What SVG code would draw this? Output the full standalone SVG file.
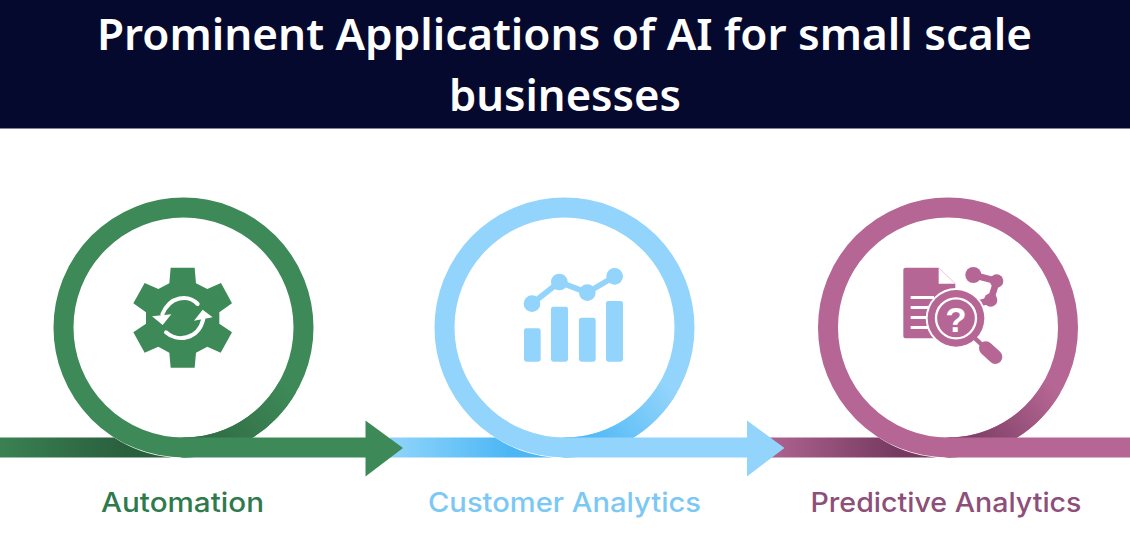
<svg xmlns="http://www.w3.org/2000/svg" width="1130" height="556" viewBox="0 0 1130 556">
<style>
.title{font-family:"Noto Sans","Open Sans",sans-serif;font-weight:600;font-size:44px;fill:#fff}
.label{font-family:"Inter","Noto Sans",sans-serif;font-weight:500;font-size:27px}
.ring{fill:none;stroke-width:20}
</style>
<defs>
<linearGradient id="gb1" gradientUnits="userSpaceOnUse" x1="0" y1="0" x2="165" y2="0"><stop offset="0" stop-color="#3a8152"/><stop offset="0.75" stop-color="#2a5f3e"/><stop offset="1" stop-color="#2a5f3e"/></linearGradient>
<linearGradient id="gb2" gradientUnits="userSpaceOnUse" x1="400" y1="0" x2="545" y2="0"><stop offset="0" stop-color="#8ad2fa"/><stop offset="0.75" stop-color="#4db7f5"/><stop offset="1" stop-color="#4db7f5"/></linearGradient>
<linearGradient id="gb3" gradientUnits="userSpaceOnUse" x1="780" y1="0" x2="925" y2="0"><stop offset="0" stop-color="#a9608c"/><stop offset="0.8" stop-color="#763a60"/><stop offset="1" stop-color="#763a60"/></linearGradient>
<linearGradient id="ga1" gradientUnits="userSpaceOnUse" x1="205" y1="445" x2="285" y2="385"><stop offset="0" stop-color="#2f6b43"/><stop offset="1" stop-color="#3e8958"/></linearGradient>
<linearGradient id="ga2" gradientUnits="userSpaceOnUse" x1="586" y1="445" x2="666" y2="385"><stop offset="0" stop-color="#4db7f5"/><stop offset="1" stop-color="#92d4fb"/></linearGradient>
<linearGradient id="ga3" gradientUnits="userSpaceOnUse" x1="970" y1="445" x2="1050" y2="385"><stop offset="0" stop-color="#7a3d63"/><stop offset="1" stop-color="#b66694"/></linearGradient>
</defs>
<rect width="1130" height="556" fill="#fff"/>
<g id="header">
<rect width="1130" height="128.5" fill="#05092e"/>
<text class="title" x="97" y="50" textLength="935" lengthAdjust="spacingAndGlyphs">Prominent Applications of AI for small scale</text>
<text class="title" x="449" y="110.5" textLength="232" lengthAdjust="spacingAndGlyphs">businesses</text>
</g>
<g id="node-automation">
<circle class="ring" cx="183.5" cy="327.5" r="120" stroke="#3e8958"/>
<path class="ring" d="M183.5,447.5 A120,120 0 0 0 287.4,387.5" stroke="url(#ga1)"/>
<g transform="translate(120,255) scale(.3333)">
<path fill="#3e8958" d="M152,38 H224 L228,85 L262,102 L303,84 L336,145 L298,172 V206 L336,232 L302,293 L262,275 L228,293 L224,338 H152 L148,293 L115,275 L74,293 L40,232 L78,206 V172 L40,145 L74,84 L115,102 L148,85 Z"/>
<path fill="none" stroke="#fff" stroke-width="12" stroke-linecap="round" d="M233,147 C205,118 150,122 127,178"/>
<path fill="none" stroke="#fff" stroke-width="12" stroke-linecap="round" d="M138,232 C170,262 235,255 250,192"/>
<path fill="#fff" d="M96,184 L154,178 L128,210 Z"/>
<path fill="#fff" d="M222,197 L278,187 L248,164 Z"/>
</g>
<text class="label" x="101" y="511.5" fill="#2f7a4d" textLength="163" lengthAdjust="spacingAndGlyphs">Automation</text>
</g>
<g id="node-customer-analytics">
<circle class="ring" cx="564.5" cy="327.5" r="120" stroke="#92d4fb"/>
<path class="ring" d="M564.5,447.5 A120,120 0 0 0 668.4,387.5" stroke="url(#ga2)"/>
<g transform="translate(420,190) scale(.3333)" fill="#92d4fb">
<rect x="312" y="415" width="50" height="100" rx="7"/>
<rect x="393" y="350" width="51" height="165" rx="7"/>
<rect x="477" y="383" width="50" height="132" rx="7"/>
<rect x="558" y="333" width="51" height="182" rx="7"/>
<path fill="none" stroke="#92d4fb" stroke-width="17" d="M336,341 L418,276 L502,308 L584,259"/>
<circle cx="336" cy="341" r="25"/><circle cx="418" cy="276" r="25"/><circle cx="502" cy="308" r="25"/><circle cx="584" cy="259" r="25"/>
</g>
<text class="label" x="428" y="511.5" fill="#7cc8f5" textLength="273" lengthAdjust="spacingAndGlyphs">Customer Analytics</text>
</g>
<g id="node-predictive-analytics">
<circle class="ring" cx="948" cy="327.5" r="120" stroke="#b66694"/>
<path class="ring" d="M948,447.5 A120,120 0 0 0 1051.9,387.5" stroke="url(#ga3)"/>
<g transform="translate(890,255) scale(.3333)">
<path fill="#b66694" d="M46,38 H146 V86 H196 V250 H46 Q40,250 40,244 V44 Q40,38 46,38 Z"/>
<path fill="none" stroke="#e6c6da" stroke-width="3" d="M148,40 L196,86"/>
<g fill="#fff"><rect x="62" y="123" width="70" height="9"/><rect x="62" y="153" width="60" height="9"/><rect x="62" y="183" width="55" height="9"/><rect x="62" y="213" width="55" height="9"/></g>
<path fill="none" stroke="#b66694" stroke-width="20" d="M250,60 L320,78 L302,135 L245,152"/>
<circle cx="250" cy="60" r="24" fill="#b66694"/><circle cx="320" cy="78" r="20" fill="#b66694"/><circle cx="302" cy="135" r="20" fill="#b66694"/>
<circle cx="198" cy="190" r="91" fill="#fff"/>
<circle cx="198" cy="190" r="85" fill="#b66694"/>
<circle cx="198" cy="190" r="60" fill="none" stroke="#fff" stroke-width="7"/>
<path fill="none" stroke="#b66694" stroke-width="13" d="M255,250 L285,278"/>
<path fill="none" stroke="#b66694" stroke-width="42" stroke-linecap="round" d="M288,280 L316,306"/>
<text x="198" y="231" text-anchor="middle" font-family="Liberation Sans, sans-serif" font-weight="700" font-size="105" fill="#fff">?</text>
</g>
<text class="label" x="810.5" y="511.5" fill="#8d4f79" textLength="271" lengthAdjust="spacingAndGlyphs">Predictive Analytics</text>
</g>
<g id="connectors">
<path fill="url(#gb1)" d="M0,437.5 H114 A125,125 0 0 0 172,457.5 H0 Z"/>
<path fill="url(#gb2)" d="M390,437.5 H495 A125,125 0 0 0 553,457.5 H390 Z"/>
<path fill="url(#gb3)" d="M770,437.5 H878.5 A125,125 0 0 0 936.5,457.5 H770 Z"/>
<path fill="#3e8958" d="M181,437.5 H365.5 V420.5 L403,448 L365.5,476.5 V457.5 H181 Z"/>
<path fill="#92d4fb" d="M562,437.5 H747 V420.5 L784.5,448 L747,476.5 V457.5 H562 Z"/>
<path fill="#b66694" d="M945.5,437.5 H1130 V457.5 H945.5 Z"/>
</g>
</svg>
